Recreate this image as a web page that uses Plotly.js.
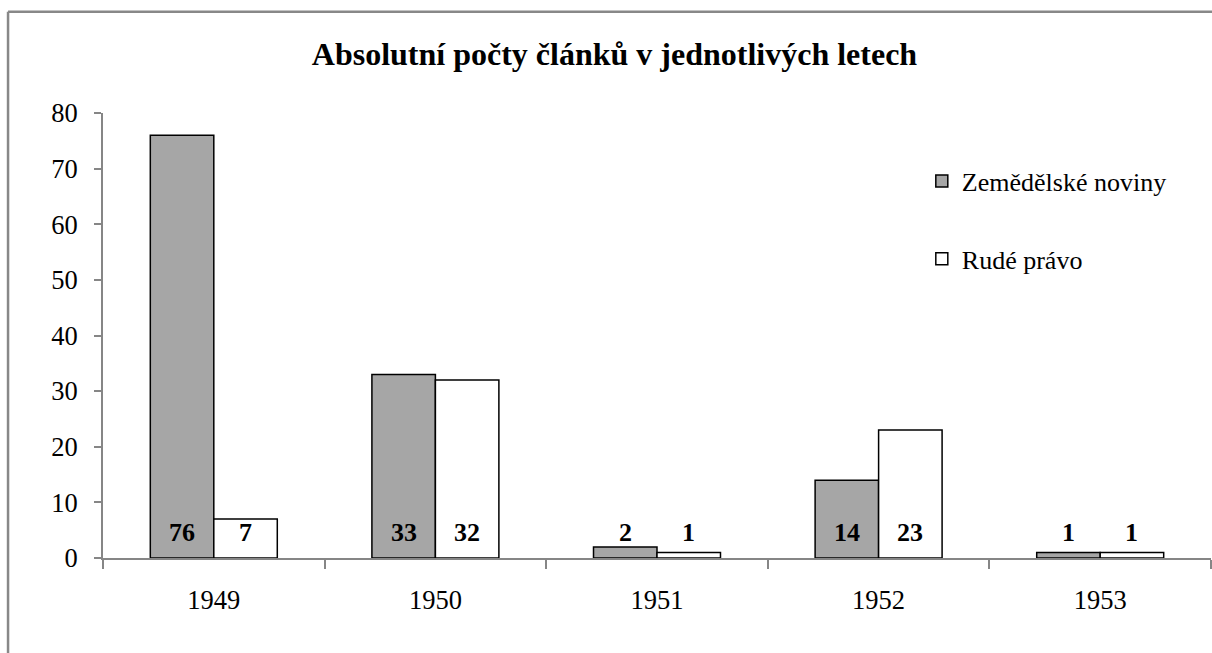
<!DOCTYPE html>
<html>
<head>
<meta charset="utf-8">
<script src="https://cdn.plot.ly/plotly-3.0.1.min.js"></script>
<style>
html,body{margin:0;padding:0;background:#fff;}
#chart{width:1212px;height:653px;}
</style>
</head>
<body>
<div id="chart"></div>
<script>
const years = ['1949', '1950', '1951', '1952', '1953'];
const zemedelske = [76, 33, 2, 14, 1];
const rudePravo = [7, 32, 1, 23, 1];
const seriesNames = ['Zemědělské noviny', 'Rudé právo'];
const titleText = 'Absolutní počty článků v jednotlivých letech';
const labelLevel = 4.5;

const serif = 'Liberation Serif, Times New Roman, serif';

const traces = [
  {
    type: 'bar', x: years, y: zemedelske, name: seriesNames[0],
    marker: {color: '#a6a6a6', line: {color: '#000', width: 1.5}},
    legendgroup: 'a', hoverinfo: 'none'
  },
  {
    type: 'bar', x: years, y: rudePravo, name: seriesNames[1],
    marker: {color: '#ffffff', line: {color: '#000', width: 1.5}},
    legendgroup: 'b', hoverinfo: 'none'
  }
];

const annotations = [];
const half = 31.75;
years.forEach((yr, i) => {
  annotations.push({x: i, y: labelLevel, xref: 'x', yref: 'y', text: '<b>' + zemedelske[i] + '</b>',
    showarrow: false, xshift: -half, yanchor: 'middle', font: {family: serif, size: 26, color: '#000'}});
  annotations.push({x: i, y: labelLevel, xref: 'x', yref: 'y', text: '<b>' + rudePravo[i] + '</b>',
    showarrow: false, xshift: half, yanchor: 'middle', font: {family: serif, size: 26, color: '#000'}});
});

const layout = {
  width: 1212, height: 653,
  margin: {l: 103, r: 1, t: 113, b: 95},
  paper_bgcolor: '#fff', plot_bgcolor: '#fff',
  font: {family: serif, color: '#000', size: 26},
  title: {
    text: '<b>' + titleText + '</b>',
    font: {family: serif, size: 32, color: '#000'},
    x: 0.507, xanchor: 'center', xref: 'container',
    y: 1 - 54 / 653, yanchor: 'middle', yref: 'container'
  },
  barmode: 'group', bargap: 0.427, bargroupgap: 0,
  xaxis: {
    type: 'category', categoryorder: 'array', categoryarray: years,
    range: [-0.5, years.length - 0.5],
    showgrid: false, zeroline: false,
    showline: true, linecolor: '#868686', linewidth: 2,
    ticks: 'outside', tickson: 'boundaries', ticklen: 9, tickwidth: 2, tickcolor: '#868686',
    ticklabelstandoff: 17, tickangle: 0,
    tickfont: {family: serif, size: 26.5, color: '#000'}
  },
  yaxis: {
    range: [0, 80], dtick: 10, showgrid: false, zeroline: false,
    showline: true, linecolor: '#868686', linewidth: 2,
    ticks: 'outside', ticklen: 7, tickwidth: 2, tickcolor: '#868686',
    ticklabelstandoff: 11,
    tickfont: {family: serif, size: 26.5, color: '#000'}
  },
  showlegend: true,
  legend: {
    x: 0.739, xanchor: 'left', y: 0.90, yanchor: 'top',
    traceorder: 'grouped', tracegroupgap: 41,
    font: {family: serif, size: 26, color: '#000'},
    bgcolor: 'rgba(0,0,0,0)', borderwidth: 0
  },
  annotations: annotations,
  shapes: [
    {type: 'line', xref: 'paper', yref: 'paper', x0: -0.0857, x1: 1.01, y0: 1.2275, y1: 1.2275,
     line: {color: '#888888', width: 2.5}},
    {type: 'line', xref: 'paper', yref: 'paper', x0: -0.0857, x1: -0.0857, y0: 1.2275, y1: -0.25,
     line: {color: '#888888', width: 2.5}}
  ]
};

Plotly.newPlot('chart', traces, layout, {staticPlot: true, displayModeBar: false});
</script>
</body>
</html>
